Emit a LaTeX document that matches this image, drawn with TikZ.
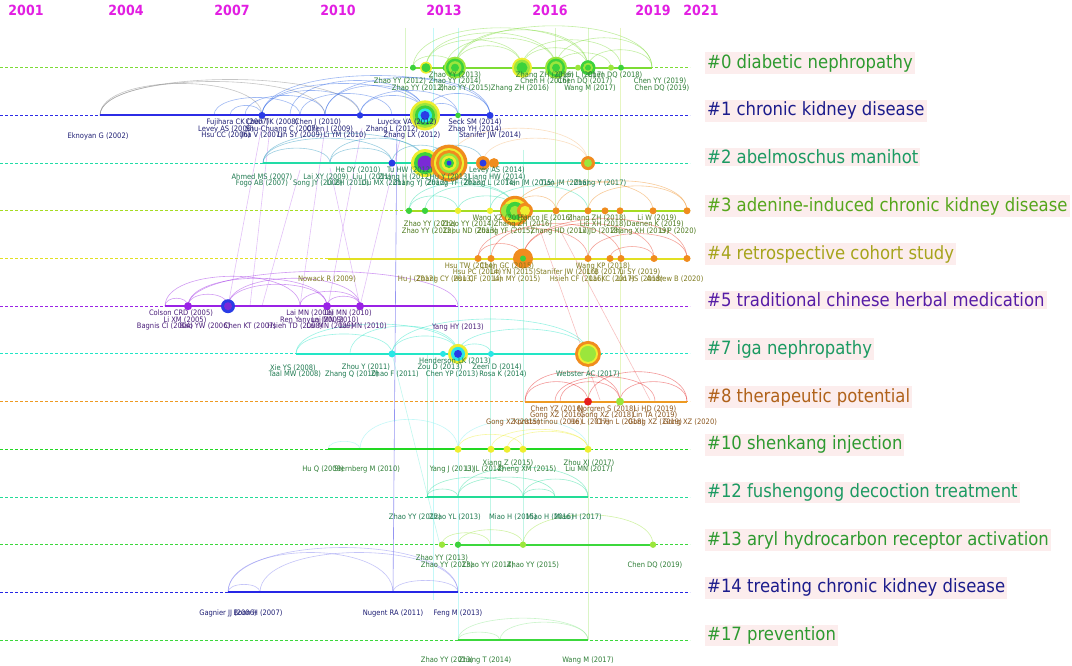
\documentclass[tikz,border=0pt]{standalone}
\usepackage{fontspec}
\setmainfont{DejaVu Sans Condensed}[BoldFont={DejaVu Sans Condensed Bold}]

\definecolor{yearmag}{HTML}{E21EE2}
\definecolor{labbg}{HTML}{FCEDED}
% cluster colours
\definecolor{ln0}{HTML}{7CDC34}
\definecolor{ln1}{HTML}{2C2CE6}
\definecolor{ln2}{HTML}{22DCA6}
\definecolor{ln3}{HTML}{A6DC22}
\definecolor{ln4}{HTML}{E2E022}
\definecolor{ln5}{HTML}{9A22E6}
\definecolor{ln7}{HTML}{22E6C6}
\definecolor{ln8}{HTML}{EE9A22}
\definecolor{ln10}{HTML}{22D822}
\definecolor{ln12}{HTML}{22DC96}
\definecolor{ln13}{HTML}{3CD83C}
\definecolor{ln14}{HTML}{2626E6}
\definecolor{ln17}{HTML}{3CD83C}
% text colours
\definecolor{tx0}{HTML}{2E9A30}
\definecolor{tx1}{HTML}{1C1C8C}
\definecolor{tx2}{HTML}{1C9A62}
\definecolor{tx3}{HTML}{56A61C}
\definecolor{tx4}{HTML}{A6A41C}
\definecolor{tx5}{HTML}{561CA6}
\definecolor{tx8}{HTML}{B0621A}
\definecolor{sm0}{HTML}{2E7E36}
\definecolor{sm1}{HTML}{1E1E74}
\definecolor{sm2}{HTML}{1E7A50}
\definecolor{sm3}{HTML}{4E7A1E}
\definecolor{sm4}{HTML}{7E7A1E}
\definecolor{sm5}{HTML}{4A1E7A}
\definecolor{sm8}{HTML}{8A561E}
% node colours
\definecolor{gA}{HTML}{3CD23C}
\definecolor{gL}{HTML}{9BE63C}
\definecolor{yY}{HTML}{EEEE30}
\definecolor{oO}{HTML}{F08C1E}
\definecolor{bB}{HTML}{2A3CE6}
\definecolor{vV}{HTML}{7A2AD6}
\definecolor{cC}{HTML}{2AE6E6}
\definecolor{rR}{HTML}{E61E1E}

\begin{document}
\begin{tikzpicture}[x=1pt,y=-1pt,
	yearlab/.style={text=yearmag,font=\bfseries\fontsize{14}{14}\selectfont},
	clusterlab/.style={fill=labbg,inner sep=2pt,anchor=base west,font=\fontsize{18.3}{19}\selectfont},
	reflab/.style={inner sep=0pt,font=\fontsize{7.5}{8}\selectfont},
	timeline/.style={dash pattern=on 3pt off 2pt,line width=0.9pt},
	solidspan/.style={line width=2pt},
	citearc/.style={line width=0.6pt,opacity=.45},
	citeline/.style={line width=0.6pt,opacity=.28}]
	\useasboundingbox (0,0) rectangle (1072,666);
	\fill[white] (0,0) rectangle (1072,666);

	% years
	\foreach \x/\yr in {26/2001,126/2004,232/2007,338/2010,444/2013,550/2016,653/2019,701/2021}
		\node[yearlab] (y\yr) at (\x,10) {\yr};

	% long citation links
	\draw[citeline,ln0] (588,28) -- (588,640);
	\draw[citeline,ln3] (620,28) -- (620,402);
	\draw[citeline,cC] (458,28) -- (458,640);
	\draw[citeline,cC] (433,28) -- (433,600);
	\draw[citeline,ln0] (405,28) -- (405,210);
	\draw[citeline,ln0] (555,28) -- (555,258);
	\draw[citeline,ln2] (490,160) -- (490,545);
	\draw[citeline,ln2] (523,150) -- (523,545);
	\draw[citeline,ln12] (427,354) -- (427,497);
	\draw[citeline,ln1,opacity=.5] (397,120) -- (393,592);
	\draw[citeline,ln5] (325,128) -- (300,306);
	\draw[citeline,ln5] (362,128) -- (328,306);
	\draw[citeline,ln5] (262,125) -- (228,306);
	\draw[citeline,ln5] (330,168) -- (360,306);
	\draw[citeline,ln5] (400,140) -- (360,306);
	\draw[citeline,ln5] (300,170) -- (262,306);
	\draw[citeline,ln5] (270,128) -- (250,306);
	\draw[citeline,ln7] (392,354) -- (440,545);
	\draw[citeline,rR] (540,230) -- (600,400);
	\draw[citeline,rR] (560,230) -- (650,400);

	% arcs, #0
	\foreach \a/\b/\h in {413/455/12,426/522/28,426/556/35,455/522/22,455/588/38,455/652/42,522/588/20,
			556/652/30,588/652/18,522/621/28,413/588/40,446/556/30,556/611/15}
		\draw[citearc,ln0] (\a,67.7) .. controls (\a,67.7-1.33*\h) and (\b,67.7-1.33*\h) .. (\b,67.7);
	% #1
	\foreach \a/\b/\h in {100/262/32,100/325/34,100/360/36}
		\draw[citearc,gray] (\a,115.4) .. controls (\a,115.4-1.33*\h) and (\b,115.4-1.33*\h) .. (\b,115.4);
	\foreach \a/\b/\h in {230/262/10,245/325/20,262/360/25,262/425/32,290/425/35,325/425/30,360/425/20,
			262/490/40,325/490/38,425/490/22,425/458/12,360/458/25,214/300/18,300/392/22}
		\draw[citearc,ln1!70!cC] (\a,115.4) .. controls (\a,115.4-1.33*\h) and (\b,115.4-1.33*\h) .. (\b,115.4);
	% #2
	\foreach \a/\b/\h in {263/392/25,263/425/30,330/425/25,392/449/18,425/483/18,263/330/15,330/392/15}
		\draw[citearc,ln1!40!ln2] (\a,163.1) .. controls (\a,163.1-1.33*\h) and (\b,163.1-1.33*\h) .. (\b,163.1);
	\foreach \a/\b/\h in {449/588/35,483/588/25}
		\draw[citearc,oO!60] (\a,163.1) .. controls (\a,163.1-1.33*\h) and (\b,163.1-1.33*\h) .. (\b,163.1);
	% #3
	\foreach \a/\b/\h in {409/458/15,425/515/25,458/515/15,409/515/28,490/588/25}
		\draw[citearc,ln2] (\a,210.8) .. controls (\a,210.8-1.33*\h) and (\b,210.8-1.33*\h) .. (\b,210.8);
	\foreach \a/\b/\h in {515/556/15,515/653/30,556/687/30,588/687/25}
		\draw[citearc,oO] (\a,210.8) .. controls (\a,210.8-1.33*\h) and (\b,210.8-1.33*\h) .. (\b,210.8);
	% #4
	\foreach \a/\b/\h in {478/588/30,491/621/35,523/654/35,523/687/40,588/687/25,610/654/12,478/523/15}
		\draw[citearc,rR!80!oO] (\a,258.5) .. controls (\a,258.5-1.33*\h) and (\b,258.5-1.33*\h) .. (\b,258.5);
	% #5
	\foreach \a/\b/\h in {165/188/8,188/228/12,188/327/28,228/327/22,228/360/28,327/360/10,300/360/15,165/300/30,188/458/35}
		\draw[citearc,ln5] (\a,306.2) .. controls (\a,306.2-1.33*\h) and (\b,306.2-1.33*\h) .. (\b,306.2);
	% #7
	\foreach \a/\b/\h in {296/392/20,296/458/30,350/458/28,392/458/18,458/491/10,458/588/25,392/588/35}
		\draw[citearc,ln7] (\a,353.9) .. controls (\a,353.9-1.33*\h) and (\b,353.9-1.33*\h) .. (\b,353.9);
	% #8
	\foreach \a/\b/\h in {525/588/20,525/620/30,560/620/20,588/687/30,620/687/20,555/655/25}
		\draw[citearc,rR] (\a,401.6) .. controls (\a,401.6-1.33*\h) and (\b,401.6-1.33*\h) .. (\b,401.6);
	% #10
	\foreach \a/\b/\h in {328/360/8,360/458/30,458/588/30}
		\draw[citearc,cC!60] (\a,449.3) .. controls (\a,449.3-1.33*\h) and (\b,449.3-1.33*\h) .. (\b,449.3);
	\foreach \a/\b/\h in {458/523/15,491/588/20,507/588/18}
		\draw[citearc,yY] (\a,449.3) .. controls (\a,449.3-1.33*\h) and (\b,449.3-1.33*\h) .. (\b,449.3);
	% #12
	\foreach \a/\b/\h in {427/458/8,427/523/20,458/555/20,523/555/8,523/588/18,458/588/30}
		\draw[citearc,ln12] (\a,497) .. controls (\a,497-1.33*\h) and (\b,497-1.33*\h) .. (\b,497);
	% #13
	\foreach \a/\b/\h in {442/490/12,458/523/15,523/653/30}
		\draw[citearc,gL] (\a,544.7) .. controls (\a,544.7-1.33*\h) and (\b,544.7-1.33*\h) .. (\b,544.7);
	% #14
	\foreach \a/\b/\h in {228/260/8,228/393/40,260/458/40,393/458/12,228/458/45}
		\draw[citearc,ln14!60] (\a,592.4) .. controls (\a,592.4-1.33*\h) and (\b,592.4-1.33*\h) .. (\b,592.4);
	% #17
	\foreach \a/\b/\h in {458/500/8,458/588/22,500/588/18}
		\draw[citearc,ln17!60] (\a,640.1) .. controls (\a,640.1-1.33*\h) and (\b,640.1-1.33*\h) .. (\b,640.1);

	% timelines
	\foreach \y/\c in {67.7/ln0,115.4/ln1,163.1/ln2,210.8/ln3,258.5/ln4,306.2/ln5,353.9/ln7,401.6/ln8,
			449.3/ln10,497/ln12,544.7/ln13,592.4/ln14,640.1/ln17}
		\draw[timeline,\c] (0,\y) -- (690,\y);
	\foreach \y/\a/\b/\c in {67.7/410/652/ln0,115.4/100/490/ln1,163.1/263/600/ln2,210.8/408/690/ln3,
			258.5/328/690/ln4,306.2/165/456/ln5,353.9/296/602/ln7,401.6/525/687/ln8,449.3/328/588/ln10,
			497/427/588/ln12,544.7/458/653/ln13,592.4/228/458/ln14,640.1/458/588/ln17}
		\draw[solidspan,\c] (\a,\y) -- (\b,\y);

	% nodes, #0
	\foreach \x/\r/\c in {413/3/gA,426/6/yY,426/4.5/gA,446/3.5/gA,
			455/11/gL,455/9/gA,455/6.5/gL,455/4/gA,
			522/10/yY,522/8/gL,522/5.5/gA,
			556/11/gL,556/9/gA,556/6.5/gL,556/4/gA,
			578/3/gL,588/7.5/gA,588/5/gL,588/3/gA,611/3/gL,621/3/gA}
		\fill[\c] (\x,67.7) circle[radius=\r];
	% #1
	\foreach \x/\r/\c in {262/3.5/bB,360/3.2/bB,
			425/15/yY,425/12.5/gL,425/10/gA,425/7/cC,425/4.5/bB,
			458/2.8/gA,490/3.5/bB}
		\fill[\c] (\x,115.4) circle[radius=\r];
	% #2
	\foreach \x/\r/\c in {392/3.5/bB,
			425/14/yY,425/11/gA,425/7.5/vV,
			449/18.5/oO,449/15/yY,449/13/oO,449/10/gL,449/7.5/yY,449/5/gA,449/2.5/bB,
			483/7/oO,483/3.5/bB,494/5/oO,
			588/7/oO,588/4/gL}
		\fill[\c] (\x,163.1) circle[radius=\r];
	% #3
	\foreach \x/\r/\c in {409/3.2/gA,425/3.2/gA,458/3.2/yY,490/3.2/yY,
			515/15/oO,515/12/yY,508/7/gL,515/9/gA,515/5/gL,525/8/oO,525/5/yY,
			556/3.5/oO,588/3.5/oO,605/3.5/oO,620/3.5/oO,653/3.5/oO,687/3.5/oO}
		\fill[\c] (\x,210.8) circle[radius=\r];
	% #4
	\foreach \x/\r/\c in {478/3.5/oO,491/3.5/oO,523/10/oO,523/3/gA,
			588/3.5/oO,610/3.5/oO,621/3.5/oO,654/3.5/oO,687/3.5/oO}
		\fill[\c] (\x,258.5) circle[radius=\r];
	% #5
	\foreach \x/\r/\c in {188/4/ln5,228/7/bB,228/4/vV,327/4/ln5,360/4/ln5}
		\fill[\c] (\x,306.2) circle[radius=\r];
	% #7
	\foreach \x/\r/\c in {392/3.5/cC,443/3/cC,458/10/yY,458/7/cC,458/4/bB,491/3/cC,
			588/13/oO,588/10/yY,588/8/gL}
		\fill[\c] (\x,353.9) circle[radius=\r];
	% #8, #10, #13
	\foreach \x/\r/\c in {588/4/rR,620/4/gL}
		\fill[\c] (\x,401.6) circle[radius=\r];
	\foreach \x in {458,491,507,523,588}
		\fill[yY] (\x,449.3) circle[radius=3.5];
	\foreach \x/\c in {442/gL,458/gA,523/gL,653/gL}
		\fill[\c] (\x,544.7) circle[radius=3.2];

	% cited references
	\foreach \x/\y/\t [count=\i] in {455/75/Zhao YY (2013),545/75/Zhang ZH (2016),580/75/Chen L (2017),
			615/75/Chen DQ (2018),400/81.5/Zhao YY (2012),455/81.5/Zhao YY (2014),545/81.5/Chen H (2016),
			585/81.5/Chen DQ (2017),660/81.5/Chen YY (2019),418/88/Zhao YY (2012),465/88/Zhao YY (2015),
			520/88/Zhang ZH (2016),590/88/Wang M (2017),662/88/Chen DQ (2019)}
		\node[reflab,text=sm0] (r0n\i) at (\x,\y) {\t};
	\foreach \x/\y/\t [count=\i] in {98/136/Eknoyan G (2002),238/122.5/Fujihara CK (2007),272/122.5/Chen TK (2008),
			318/122.5/Chen J (2010),407/122.5/Luyckx VA (2012),475/122.5/Seck SM (2014),
			226/129/Levey AS (2006),282/129/Shu-Chuang C (2007),330/129/Chen J (2009),392/129/Zhang L (2012),
			475/129/Zhao YH (2014),226/135.5/Hsu CC (2006),262/135.5/Jha V (2007),300/135.5/Lin SY (2009),
			345/135.5/Li YM (2010),412/135.5/Zhang LX (2012),490/135.5/Stanifer JW (2014)}
		\node[reflab,text=sm1] (r1n\i) at (\x,\y) {\t};
	\foreach \x/\y/\t [count=\i] in {262/177/Ahmed MS (2007),262/183.5/Fogo AB (2007),326/177/Lai XY (2009),
			318/183.5/Song JY (2008),358/170.5/He DY (2010),372/177/Liu J (2011),348/183.5/Li ZH (2010),
			410/170.5/Tu HW (2012),405/177/Zhang H (2012),385/183.5/Liu MX (2011),
			420/183.5/Zhang YJ (2012),450/177/Hu Y (2013),455/183.5/Zhang YF (2013),497/170.5/Levey AS (2014),
			497/177/Liang HW (2014),490/183.5/Zhang L (2014),530/183.5/Tian JM (2015),565/183.5/Tian JM (2016),
			600/183.5/Zhang Y (2017)}
		\node[reflab,text=sm2] (r2n\i) at (\x,\y) {\t};
	\foreach \x/\y/\t [count=\i] in {500/218/Wang XZ (2015),545/218/Franco JE (2016),597/218/Zhang ZH (2018),
			657/218/Li W (2019),430/224.5/Zhao YY (2012),468/224.5/Zhao YY (2014),523/224.5/Zhang ZH (2016),
			603/224.5/Liu XH (2018),655/224.5/Daenen K (2019),428/231/Zhao YY (2012),470/231/Zhou ND (2013),
			505/231/Zhang YF (2015),560/231/Zhang HD (2017),600/231/Lu JD (2018),640/231/Zhang XH (2019),
			678/231/Li P (2020)}
		\node[reflab,text=sm3] (r3n\i) at (\x,\y) {\t};
	\foreach \x/\y/\t [count=\i] in {327/279/Nowack R (2009),417/279/Hu J (2012),445/279/Zhang CY (2013),
			470/266/Hsu TW (2014),507/266/Chen GC (2015),603/266/Wang KP (2018),477/272.5/Hsu PC (2014),
			513/272.5/Lin YN (2015),567/272.5/Stanifer JW (2016),605/272.5/Li B (2017),640/272.5/Li SY (2019),
			478/279/Hsu CF (2014),517/279/Lin MY (2015),577/279/Hsieh CF (2016),612/279/Lai KC (2017),
			640/279/Lin HS (2018),675/279/Andrew B (2020)}
		\node[reflab,text=sm4] (r4n\i) at (\x,\y) {\t};
	\foreach \x/\y/\t [count=\i] in {181/313.5/Colson CRD (2005),185/320/Li XM (2005),165/326.5/Bagnis CI (2004),
			205/326.5/Bao YW (2006),250/326.5/Chen KT (2007),295/326.5/Hsieh TD (2008),330/326.5/Lai MN (2009),
			363/326.5/Lai MN (2010),310/313.5/Lai MN (2008),348/313.5/Lai MN (2010),312/320/Ren Yanyun (2009),
			335/320/Lai MN (2010),458/327/Yang HY (2013)}
		\node[reflab,text=sm5] (r5n\i) at (\x,\y) {\t};
	\foreach \x/\y/\t [count=\i] in {293/368/Xie YS (2008),295/374.5/Taal MW (2008),352/374.5/Zhang Q (2010),
			366/367.5/Zhou Y (2011),395/374.5/Zhao F (2011),455/361/Henderson LK (2013),440/367.5/Zou D (2013),
			497/367.5/Zeeri D (2014),452/374.5/Chen YP (2013),503/374.5/Rosa K (2014),588/374.5/Webster AC (2017)}
		\node[reflab,text=sm2] (r7n\i) at (\x,\y) {\t};
	\foreach \x/\y/\t [count=\i] in {557/409/Chen YZ (2016),607/409/Norgren S (2018),655/409/Li HD (2019),
			557/415.5/Gong XZ (2016),607/415.5/Gong XZ (2018),655/415.5/Lin TA (2019),513/422/Gong XZ (2015),
			548/422/Konstantinou (2016),590/422/He L (2017),620/422/Chen L (2018),655/422/Gong XZ (2019),
			690/422/Gong XZ (2020)}
		\node[reflab,text=sm8] (r8n\i) at (\x,\y) {\t};
	\foreach \x/\y/\t [count=\i] in {508/463/Xiang Z (2015),589/463/Zhou XJ (2017),452/469.5/Yang J (2013),
			485/469.5/Li JL (2014),527/469.5/Zheng XM (2015),589/469.5/Liu MN (2017),323/469.5/Hu Q (2009),
			367/469.5/Sternberg M (2010)}
		\node[reflab,text=sm0] (r10n\i) at (\x,\y) {\t};
	\foreach \x/\y/\t [count=\i] in {415/517/Zhao YY (2012),455/517/Zhao YL (2013),513/517/Miao H (2015),
			550/517/Miao H (2016),578/517/Miao H (2017)}
		\node[reflab,text=sm2] (r12n\i) at (\x,\y) {\t};
	\foreach \x/\y/\t [count=\i] in {442/558/Zhao YY (2013),447/565/Zhao YY (2013),488/565/Zhao YY (2014),
			533/565/Zhao YY (2015),655/565/Chen DQ (2019)}
		\node[reflab,text=sm0] (r13n\i) at (\x,\y) {\t};
	\foreach \x/\y/\t [count=\i] in {228/613/Gagnier JJ (2006),258/613/Boon H (2007),393/613/Nugent RA (2011),
			458/613/Feng M (2013)}
		\node[reflab,text=sm1] (r14n\i) at (\x,\y) {\t};
	\foreach \x/\y/\t [count=\i] in {447/660/Zhao YY (2013),485/660/Zhang T (2014),588/660/Wang M (2017)}
		\node[reflab,text=sm0] (r17n\i) at (\x,\y) {\t};

	% cluster labels
	\node[clusterlab,text=tx0] (c0) at (705,68.2) {\#0 diabetic nephropathy};
	\node[clusterlab,text=tx1] (c1) at (705,116) {\#1 chronic kidney disease};
	\node[clusterlab,text=tx2] (c2) at (705,163.6) {\#2 abelmoschus manihot};
	\node[clusterlab,text=tx3] (c3) at (705,211.3) {\#3 adenine-induced chronic kidney disease};
	\node[clusterlab,text=tx4] (c4) at (705,259) {\#4 retrospective cohort study};
	\node[clusterlab,text=tx5] (c5) at (705,306.7) {\#5 traditional chinese herbal medication};
	\node[clusterlab,text=tx2] (c7) at (705,354.4) {\#7 iga nephropathy};
	\node[clusterlab,text=tx8] (c8) at (705,402.1) {\#8 therapeutic potential};
	\node[clusterlab,text=tx0] (c10) at (705,449.8) {\#10 shenkang injection};
	\node[clusterlab,text=tx2] (c12) at (705,497.5) {\#12 fushengong decoction treatment};
	\node[clusterlab,text=tx0] (c13) at (705,545.2) {\#13 aryl hydrocarbon receptor activation};
	\node[clusterlab,text=tx1] (c14) at (705,592.9) {\#14 treating chronic kidney disease};
	\node[clusterlab,text=tx0] (c17) at (705,640.6) {\#17 prevention};
\end{tikzpicture}
\end{document}
